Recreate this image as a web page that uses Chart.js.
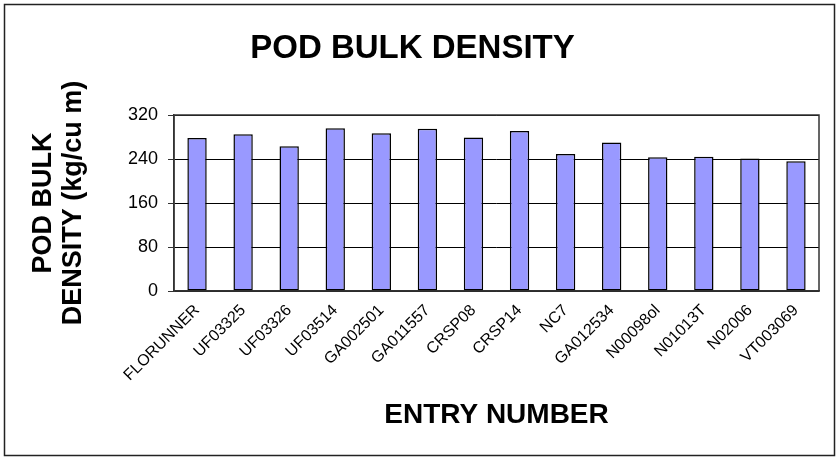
<!DOCTYPE html>
<html>
<head>
<meta charset="utf-8">
<script src="https://cdn.jsdelivr.net/npm/chart.js@4/dist/chart.umd.min.js"></script>
<style>
  html, body { margin: 0; padding: 0; background: #fff; }
  #wrap { width: 840px; height: 461px; position: relative; }
</style>
</head>
<body>
<div id="wrap"><canvas id="c" width="840" height="461"></canvas></div>
<script>
const categories = ["FLORUNNER","UF03325","UF03326","UF03514","GA002501","GA011557","CRSP08","CRSP14","NC7","GA012534","N00098ol","N01013T","N02006","VT003069"];
const podBulkDensity = [278, 285, 263, 296, 287, 295, 279, 291, 249, 270, 243, 244, 241, 236];
const yTicks = [0, 80, 160, 240, 320];

const FONT = "'Liberation Sans', Arial, sans-serif";

const frame = {
  id: 'frame',
  beforeDraw(chart) {
    const ctx = chart.ctx;
    ctx.save();
    ctx.fillStyle = '#fff';
    ctx.fillRect(0, 0, chart.width, chart.height);
    ctx.restore();
  },
  afterDraw(chart) {
    const ctx = chart.ctx, a = chart.chartArea;
    ctx.save();
    ctx.strokeStyle = '#333';
    ctx.lineWidth = 1.5;
    ctx.strokeRect(a.left, a.top, a.right - a.left, a.bottom - a.top);
    ctx.strokeStyle = '#222';
    ctx.lineWidth = 1.5;
    ctx.strokeRect(4.5, 4.5, 830, 451);
    ctx.restore();
  }
};

new Chart(document.getElementById('c'), {
  type: 'bar',
  data: {
    labels: categories,
    datasets: [{
      data: podBulkDensity,
      backgroundColor: '#9999FF',
      borderColor: '#000',
      borderWidth: 1.5,
      borderSkipped: false,
      categoryPercentage: 1.0,
      barPercentage: 0.42
    }]
  },
  options: {
    responsive: false,
    animation: false,
    devicePixelRatio: 1,
    layout: { padding: { left: 6, right: 21, top: 6, bottom: 6 } },
    plugins: {
      legend: { display: false },
      tooltip: { enabled: false },
      title: {
        display: true,
        text: 'POD BULK DENSITY',
        color: '#000',
        font: { family: FONT, size: 33, weight: 'bold', lineHeight: 1.2 },
        padding: { top: 23, bottom: 46.4 }
      }
    },
    scales: {
      x: {
        afterFit(s) { s.height = 164; },
        grid: { display: false, drawTicks: false },
        border: { display: true, color: '#333', width: 1.5 },
        ticks: {
          color: '#000',
          font: { family: FONT, size: 16 },
          minRotation: 45,
          maxRotation: 45,
          autoSkip: false,
          padding: 10
        },
        title: {
          display: true,
          text: 'ENTRY NUMBER',
          color: '#000',
          font: { family: FONT, size: 28, weight: 'bold', lineHeight: 1.2 },
          padding: { top: 0, bottom: 22.7 }
        }
      },
      y: {
        min: 0,
        max: 320,
        afterFit(s) { s.width = 168; },
        afterBuildTicks(s) { s.ticks = yTicks.map(v => ({ value: v })); },
        grid: { color: '#000', lineWidth: 1, drawTicks: true, tickLength: 6, tickColor: '#333' },
        border: { display: true, color: '#333', width: 1.5 },
        ticks: {
          color: '#000',
          font: { family: FONT, size: 18 },
          padding: 10
        },
        title: {
          display: true,
          text: ['POD BULK', 'DENSITY (kg/cu m)'],
          color: '#000',
          font: { family: FONT, size: 27, weight: 'bold', lineHeight: 1.1 },
          padding: { top: 23, bottom: 0 }
        }
      }
    }
  },
  plugins: [frame]
});
</script>
</body>
</html>
